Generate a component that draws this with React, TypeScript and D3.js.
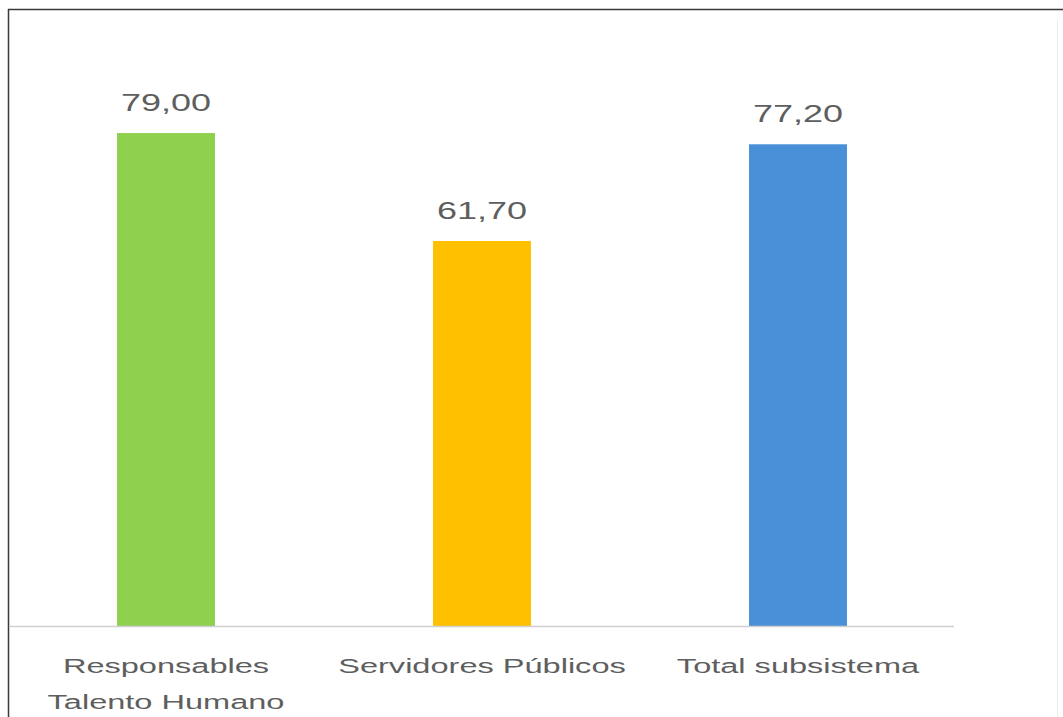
import React from "react";
import * as d3 from "d3";

const categories: string[][] = [["Responsables", "Talento Humano"], ["Servidores Públicos"], ["Total subsistema"]];
const values: number[] = [79.0, 61.7, 77.2];
const colors: string[] = ["#8FD14F", "#FFC000", "#4A90D9"];
const valueLabels: string[] = ["79,00", "61,70", "77,20"];

export default function App() {
  const W = 1063, H = 717;
  const x = d3.scaleBand<number>().domain(d3.range(values.length)).range([8, 956]).paddingInner(0.69).paddingOuter(0.345);
  const y = d3.scaleLinear().domain([0, 100]).range([626, 2]);
  const font = "'Liberation Sans', Arial, sans-serif";
  return (
    <svg width={W} height={H} style={{ position: "absolute", left: 0, top: 0, background: "#fff" }}>
      <rect x={0} y={0} width={W} height={H} fill="#fff" />
      <line x1={8.5} y1={9} x2={8.5} y2={H} stroke="#3a3a3a" strokeWidth={1.5} />
      <line x1={8} y1={9.5} x2={W} y2={9.5} stroke="#3a3a3a" strokeWidth={1.5} />
      <line x1={1057.5} y1={20} x2={1057.5} y2={H} stroke="#ececec" strokeWidth={1} />
      {values.map((v, i) => (
        <rect key={i} x={x(i)} y={y(v)} width={x.bandwidth()} height={y(0) - y(v)} fill={colors[i]} />
      ))}
      <line x1={10} y1={626.5} x2={954} y2={626.5} stroke="#d0d0d0" strokeWidth={1.5} />
      {values.map((v, i) => {
        const cx = (x(i) as number) + x.bandwidth() / 2;
        return (
          <g key={i} transform={`translate(${cx},${y(v) - 22}) scale(1.5,1)`}>
            <text textAnchor="middle" fontFamily={font} fontSize={24} fill="#5e5e5e">{valueLabels[i]}</text>
          </g>
        );
      })}
      {categories.map((lines, i) => {
        const cx = (x(i) as number) + x.bandwidth() / 2;
        return (
          <g key={i} transform={`translate(${cx},673) scale(1.55,1)`}>
            {lines.map((l, j) => (
              <text key={j} y={j * 36} textAnchor="middle" fontFamily={font} fontSize={21} fill="#5e5e5e">{l}</text>
            ))}
          </g>
        );
      })}
    </svg>
  );
}
